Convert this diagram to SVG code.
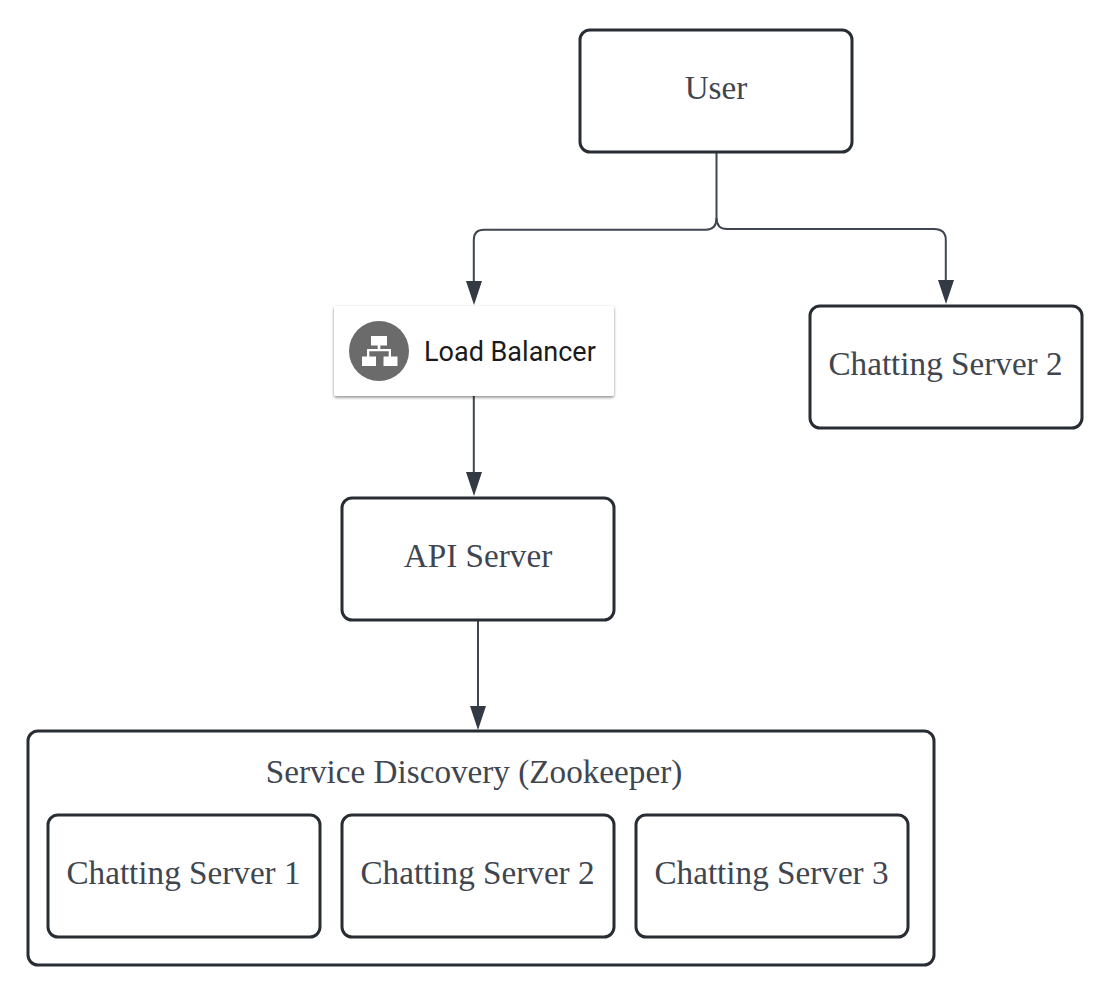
<svg xmlns="http://www.w3.org/2000/svg" width="1114" height="998" viewBox="0 0 1114 998">
<style>
.box{fill:#fff;stroke:#282c33;stroke-width:3}
.lbl{font-family:"Liberation Serif",serif;font-size:33.2px;fill:#3f4650;text-anchor:middle}
.con{fill:none;stroke:#3f4650;stroke-width:2}
.head{fill:#333a44}
</style>
<defs><filter id="sh" x="-10%" y="-20%" width="120%" height="140%"><feDropShadow dx="0" dy="1.5" stdDeviation="1.6" flood-color="#000" flood-opacity="0.45"/></filter></defs>
<rect width="1114" height="998" fill="#fff"/>
<g id="connectors">
<path class="con" d="M716.500 152V218Q716.500 229.500 706 229.800H484Q473.800 229.800 473.800 240V284"/>
<path class="con" d="M716.500 218Q716.500 229 727 229H934Q945.800 229 945.800 240V284"/>
<path class="con" d="M473.800 396V474"/>
<path class="con" d="M478 620V708"/>
<path class="head" d="M466 281H482L474 305Z"/>
<path class="head" d="M938 280H954L946 304Z"/>
<path class="head" d="M466 472H482L474 496Z"/>
<path class="head" d="M470 706H486L478 730Z"/>
</g>
<g id="user"><rect class="box" x="580" y="30" width="272" height="122" rx="10"/><text class="lbl" x="716" y="99">User</text></g>
<g id="load-balancer">
<rect x="334" y="306" width="280" height="90" rx="2" fill="#fff" filter="url(#sh)"/>
<circle cx="379" cy="351" r="30" fill="#6b6b6b"/>
<path fill="#fff" d="M371 336H387V345.500H380.300V349H391V356.500H397.500V366H383.500V356.500H388.700V351.200H369.300V356.500H376V366H362V356.500H367V349H377.700V345.500H371Z"/>
<text x="424" y="361" font-family="Roboto,sans-serif" font-size="27px" fill="#1a1a1a">Load Balancer</text>
</g>
<g id="chat-top"><rect class="box" x="810" y="306" width="272" height="122" rx="10"/><text class="lbl" x="945.500" y="375">Chatting Server 2</text></g>
<g id="api"><rect class="box" x="342" y="498" width="272" height="122" rx="10"/><text class="lbl" x="478" y="567">API Server</text></g>
<g id="discovery"><rect class="box" x="28" y="731" width="906" height="234" rx="10"/><text class="lbl" x="474" y="783">Service Discovery (Zookeeper)</text></g>
<g id="chat1"><rect class="box" x="48" y="815" width="272" height="122" rx="10"/><text class="lbl" x="183.500" y="884">Chatting Server 1</text></g>
<g id="chat2"><rect class="box" x="342" y="815" width="272" height="122" rx="10"/><text class="lbl" x="477.500" y="884">Chatting Server 2</text></g>
<g id="chat3"><rect class="box" x="636" y="815" width="272" height="122" rx="10"/><text class="lbl" x="771.500" y="884">Chatting Server 3</text></g>
</svg>
